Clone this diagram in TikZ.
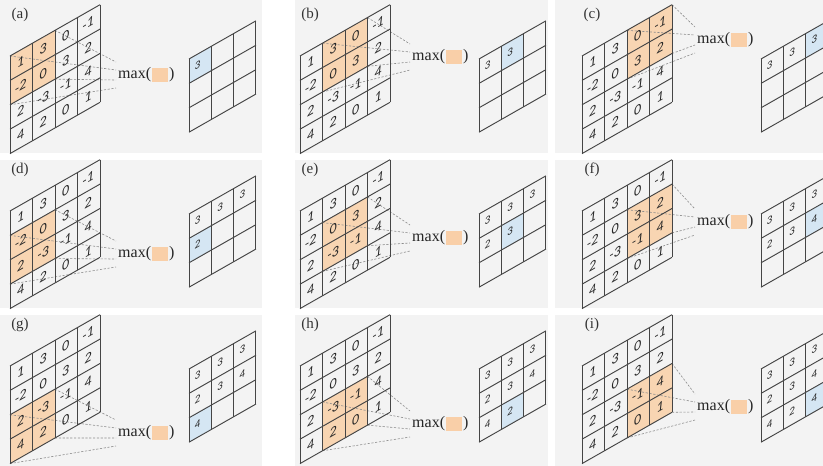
\documentclass[tikz,border=0pt]{standalone}
\usepackage{fontspec}
\setmainfont{Liberation Serif}
\newfontfamily\numfont{Carlito}
\definecolor{bgc}{HTML}{F3F3F3}
\definecolor{wino}{HTML}{F8D5B2}
\definecolor{outb}{HTML}{D5E6F3}
\definecolor{sqo}{HTML}{F9CFA8}
\definecolor{gline}{HTML}{454545}
\definecolor{dline}{HTML}{8C8C8C}
\tikzset{
  gridln/.style={draw=gline, line width=0.95pt},
  dashline/.style={draw=dline, line width=0.6pt, dash pattern=on 2.2pt off 1.6pt},
  num/.style={font=\numfont\itshape\fontsize{14}{14}\selectfont, text=black!85, inner sep=0pt, transform shape},
  onum/.style={font=\numfont\itshape\fontsize{11}{11}\selectfont, text=black!85, inner sep=0pt, transform shape},
  lbl/.style={font=\fontsize{15}{15}\selectfont, text=black!80, inner sep=0pt},
  maxlbl/.style={font=\fontsize{16}{16}\selectfont, text=black!85, inner sep=0pt, anchor=west},
  sqbox/.style={fill=sqo, minimum width=16pt, minimum height=14pt, inner sep=0pt},
}
\newcommand\mppanel[8]{%
 \begin{scope}[shift={(#3,#4)}]
  \node[lbl] (lb#1) at (20,15) {(#2)};
  \coordinate (e#1a) at (#7-2,#8-13);
  \coordinate (e#1b) at (#7-2,#8-5);
  \coordinate (e#1c) at (#7-2,#8+5);
  \coordinate (e#1d) at (#7-2,#8+13);
  % output grid
  \begin{scope}[shift={(189,59)}, yslant=0.57]
   \foreach \k/\i/\j/\v in {0/0/0/3,1/0/1/3,2/0/2/3,3/1/0/2,4/1/1/3,5/1/2/4,6/2/0/4,7/2/1/2,8/2/2/4}{
     \ifnum\k=#1
       \fill[outb] (22.3*\j,24.4*\i) rectangle (22.3*\j+22.3,24.4*\i+24.4);
     \fi
     \ifnum\k>#1\else
       \node[onum] (o#1-\i-\j) at (22.3*\j+8.5,24.4*\i+11) {\v};
     \fi
   }
   \foreach \t in {0,1,2,3}{
     \draw[gridln] (22.3*\t,0) -- (22.3*\t,73.2);
     \draw[gridln] (0,24.4*\t) -- (66.9,24.4*\t);
   }
  \end{scope}
  % input grid
  \begin{scope}[shift={(10,56)}, yslant=0.57]
   \fill[wino] (22.5*#6,24.4*#5) rectangle (22.5*#6+45,24.4*#5+48.8);
   \coordinate (w#1tl) at (22.5*#6,24.4*#5);
   \coordinate (w#1tr) at (22.5*#6+45,24.4*#5);
   \coordinate (w#1bl) at (22.5*#6,24.4*#5+48.8);
   \coordinate (w#1br) at (22.5*#6+45,24.4*#5+48.8);
  \end{scope}
  \draw[dashline] (w#1tr) -- (e#1a);
  \draw[dashline] (w#1tl) -- (e#1b);
  \draw[dashline] (w#1br) -- (e#1c);
  \draw[dashline] (w#1bl) -- (e#1d);
  \begin{scope}[shift={(10,56)}, yslant=0.57]
   \foreach \t in {0,1,2,3,4}{
     \draw[gridln] (22.5*\t,0) -- (22.5*\t,97.6);
     \draw[gridln] (0,24.4*\t) -- (90,24.4*\t);
   }
   \foreach \i/\j/\v in {0/0/1,0/1/3,0/2/0,0/3/-1,1/0/-2,1/1/0,1/2/3,1/3/2,2/0/2,2/1/-3,2/2/-1,2/3/4,3/0/4,3/1/2,3/2/0,3/3/1}{
     \node[num] (n#1-\i-\j) at (22.5*\j+10.5,24.4*\i+12) {\v};
   }
  \end{scope}
  \node[maxlbl] (mx#1) at (#7,#8) {max(};
  \node[sqbox] (sq#1) at (#7+42,#8) {};
  \node[maxlbl] (mc#1) at (#7+51,#8) {)};
 \end{scope}}
\begin{document}
\begin{tikzpicture}[x=1pt,y=-1pt]
\useasboundingbox (0,0) rectangle (823,466);
\clip (0,0) rectangle (823,466);
\fill[white] (0,0) rectangle (823,466);
\foreach \ya/\yb in {0/153,160/308,315/466}{
  \fill[bgc] (0,\ya) rectangle (262,\yb);
  \fill[bgc] (295,\ya) rectangle (548,\yb);
  \fill[bgc] (555,\ya) rectangle (823,\yb);
}
\mppanel{0}{a}{0}{0}{0}{0}{118}{75}
\mppanel{1}{b}{290}{0}{0}{1}{122}{57}
\mppanel{2}{c}{572}{0}{0}{2}{125}{40}
\mppanel{3}{d}{0}{155}{1}{0}{118}{99}
\mppanel{4}{e}{290}{155}{1}{1}{122}{83}
\mppanel{5}{f}{572}{155}{1}{2}{125}{67}
\mppanel{6}{g}{0}{310}{2}{0}{118}{123}
\mppanel{7}{h}{290}{310}{2}{1}{122}{114}
\mppanel{8}{i}{572}{310}{2}{2}{125}{97}
\end{tikzpicture}
\end{document}
